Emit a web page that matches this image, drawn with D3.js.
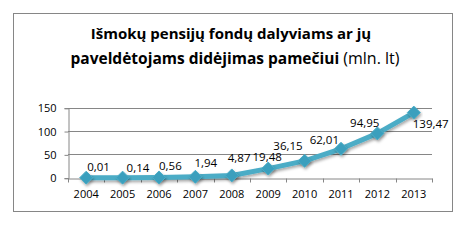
<!DOCTYPE html>
<html>
<head>
<meta charset="utf-8">
<script src="https://d3js.org/d3.v7.min.js"></script>
<style>
  body { margin: 0; background: #fff; }
  text { font-family: "Open Sans", sans-serif; fill: #000; }
</style>
</head>
<body>
<div id="canvas"></div>
<script>
  // Chart data
  var years = ["2004", "2005", "2006", "2007", "2008", "2009", "2010", "2011", "2012", "2013"];
  var values = [0.01, 0.14, 0.56, 1.94, 4.87, 19.48, 36.15, 62.01, 94.95, 139.47];
  var labels = ["0,01", "0,14", "0,56", "1,94", "4,87", "19,48", "36,15", "62,01", "94,95", "139,47"];
  var yTicks = [0, 50, 100, 150];

  // label placement (anchor, dx, dy) hand tuned like the original
  var labelPos = [
    ["start", 1, -7], ["start", 4, -6], ["start", 0, -7], ["start", -1, -10], ["start", -4, -13],
    ["middle", -1, -8], ["end", -2, -11], ["end", -2, -5], ["end", 2, -6], ["start", -1, 15]
  ];

  var W = 470, H = 240;
  var svg = d3.select("#canvas").append("svg")
    .attr("width", W).attr("height", H);

  var defs = svg.append("defs");
  var f = defs.append("filter").attr("id", "shadow")
    .attr("x", "-20%").attr("y", "-20%").attr("width", "140%").attr("height", "160%");
  f.append("feDropShadow").attr("dx", 1).attr("dy", 2).attr("stdDeviation", 1.5)
    .attr("flood-color", "#000").attr("flood-opacity", 0.35);

  // outer frame
  svg.append("rect")
    .attr("x", 13.5).attr("y", 13.5).attr("width", 439).attr("height", 198)
    .attr("fill", "#fff").attr("stroke", "#868686");

  // title
  svg.append("text").attr("x", 231).attr("y", 39)
    .attr("text-anchor", "middle").style("font-size", "15px").style("font-weight", "bold")
    .text("Išmokų pensijų fondų dalyviams ar jų");
  var t2 = svg.append("text").attr("x", 235).attr("y", 64)
    .attr("text-anchor", "middle").style("font-size", "15.5px");
  t2.append("tspan").style("font-weight", "bold").text("paveldėtojams didėjimas pamečiui");
  t2.append("tspan").style("font-size", "16px").text(" (mln. lt)");

  var plotL = 68, plotR = 432, plotT = 107.7, plotB = 177.7;

  var x = d3.scaleBand().domain(years).range([plotL, plotR]);
  var y = d3.scaleLinear().domain([0, 150]).range([plotB, plotT]);

  // gridlines
  svg.append("g").selectAll("line").data(yTicks.slice(1)).join("line")
    .attr("x1", plotL).attr("x2", plotR)
    .attr("y1", function(d) { return Math.round(y(d)) + 0.5; })
    .attr("y2", function(d) { return Math.round(y(d)) + 0.5; })
    .attr("stroke", "#868686");

  // y axis
  var yAxis = svg.append("g")
    .attr("transform", "translate(" + (plotL + 0.5) + ",0.5)")
    .call(d3.axisLeft(y).tickValues(yTicks).tickSize(4).tickPadding(8));
  yAxis.select(".domain").attr("stroke", "#868686");
  yAxis.selectAll(".tick line").attr("stroke", "#868686");
  yAxis.selectAll("text").style("font-size", "11px").attr("font-family", null);

  // x axis with ticks between categories
  var xAxis = svg.append("g")
    .attr("transform", "translate(0," + (Math.round(plotB) + 0.5) + ")")
    .call(d3.axisBottom(x).tickSize(0).tickPadding(12));
  xAxis.select(".domain").attr("stroke", "#868686");
  xAxis.selectAll("text").style("font-size", "11px").attr("font-family", null);
  xAxis.selectAll("line.sep").data(years.concat(["end"])).join("line")
    .attr("class", "sep")
    .attr("x1", function(d, i) { return Math.round(plotL + i * x.step()) + 0.5; })
    .attr("x2", function(d, i) { return Math.round(plotL + i * x.step()) + 0.5; })
    .attr("y1", 0).attr("y2", 4).attr("stroke", "#868686");

  var cx = function(d, i) { return x(years[i]) + x.bandwidth() / 2; };

  // line
  var line = d3.line().x(function(d, i) { return cx(d, i); }).y(function(d) { return y(d); });
  svg.append("path").datum(values)
    .attr("d", line)
    .attr("fill", "none").attr("stroke", "#4BACC6").attr("stroke-width", 5)
    .attr("stroke-linejoin", "round")
    .attr("filter", "url(#shadow)");

  // diamond markers
  svg.append("g").selectAll("path").data(values).join("path")
    .attr("d", "M0,-6.5L6.5,0L0,6.5L-6.5,0Z")
    .attr("transform", function(d, i) { return "translate(" + cx(d, i) + "," + y(d) + ")"; })
    .attr("fill", "#3A9FBD").attr("stroke", "#4BACC6").attr("stroke-width", 1)
    .attr("filter", "url(#shadow)");

  // data labels
  svg.append("g").selectAll("text").data(values).join("text")
    .attr("x", function(d, i) { return cx(d, i) + labelPos[i][1]; })
    .attr("y", function(d, i) { return y(d) + labelPos[i][2]; })
    .attr("text-anchor", function(d, i) { return labelPos[i][0]; })
    .style("font-size", "11.5px")
    .text(function(d, i) { return labels[i]; });
</script>
</body>
</html>
